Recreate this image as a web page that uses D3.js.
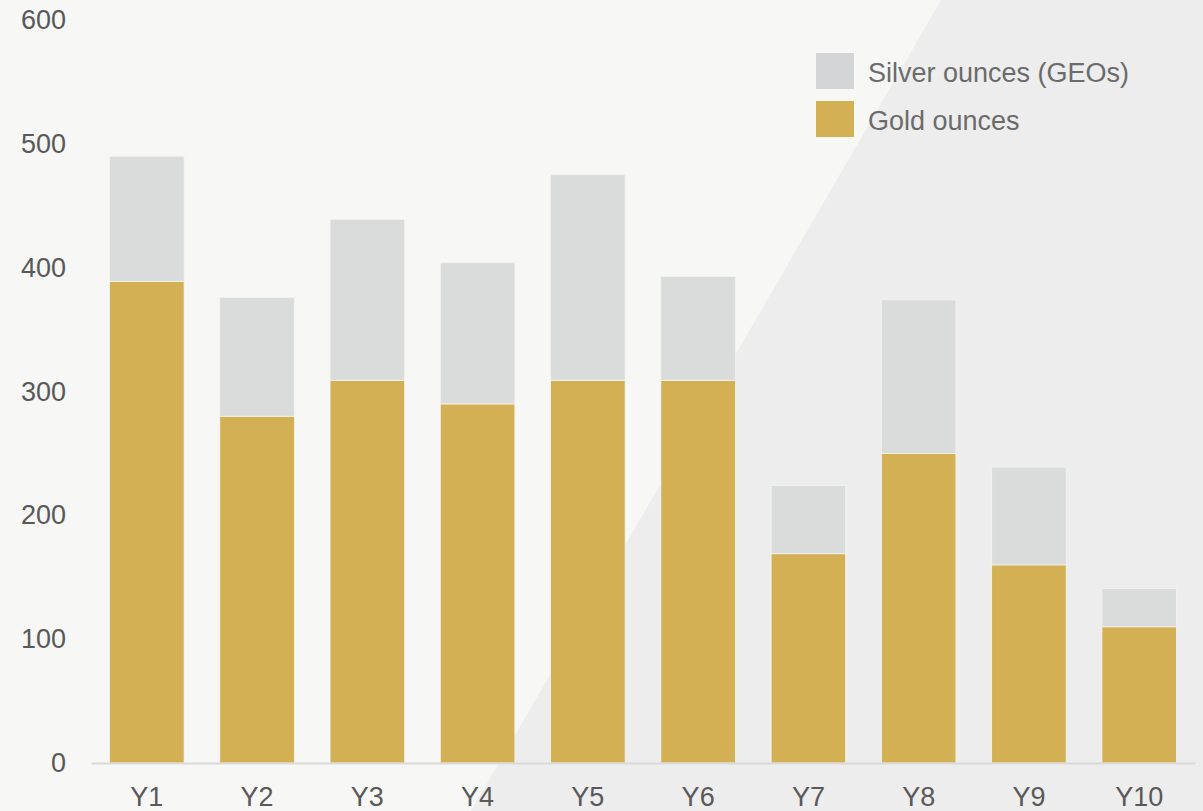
<!DOCTYPE html>
<html>
<head>
<meta charset="utf-8">
<script src="https://cdn.jsdelivr.net/npm/d3@7"></script>
<style>
  html, body { margin: 0; padding: 0; background: #f7f7f5; }
  svg { display: block; font-family: "Liberation Sans", Arial, sans-serif; }
</style>
</head>
<body>
<svg id="chart"></svg>
<script>
// chart values
const years = ['Y1', 'Y2', 'Y3', 'Y4', 'Y5', 'Y6', 'Y7', 'Y8', 'Y9', 'Y10'];
const goldOunces = [389, 280, 309, 290, 309, 309, 169, 250, 160, 110];
const silverOunces = [101, 96, 130, 114, 166, 84, 55, 124, 79, 31];
const yTicks = [0, 100, 200, 300, 400, 500, 600];
const seriesNames = ['Silver ounces (GEOs)', 'Gold ounces'];

const width = 1203, height = 811;
const svg = d3.select('#chart')
  .attr('width', width)
  .attr('height', height);

// background with the lighter diagonal panel
svg.append('rect')
  .attr('width', width).attr('height', height)
  .attr('fill', '#f7f7f5');
svg.append('path')
  .attr('d', `M941,0 L${width},0 L${width},${height} L471,${height} Z`)
  .attr('fill', '#ededed');

const x = d3.scaleBand()
  .domain(years)
  .range([91, 1195])
  .paddingInner(0.324)
  .paddingOuter(0.168);

const y = d3.scaleLinear()
  .domain([0, 600])
  .range([763, 20]);

const rows = years.map((yr, i) => ({ year: yr, gold: goldOunces[i], silver: silverOunces[i] }));
const stack = d3.stack().keys(['gold', 'silver'])(rows);
const colors = { gold: '#d3b053', silver: '#d9dcdb' };

// bars
svg.append('g')
  .selectAll('g')
  .data(stack)
  .join('g')
  .attr('fill', d => colors[d.key])
  .selectAll('rect')
  .data(d => d)
  .join('rect')
  .attr('x', d => x(d.data.year))
  .attr('y', d => y(d[1]))
  .attr('width', x.bandwidth())
  .attr('height', d => y(d[0]) - y(d[1]))
  .attr('stroke', '#f3f3ef')
  .attr('stroke-width', 0.8);

// y axis labels
const yAxis = svg.append('g')
  .attr('transform', 'translate(66,0)')
  .call(d3.axisLeft(y).tickValues(yTicks).tickSize(0).tickPadding(0));
yAxis.select('.domain').remove();
yAxis.selectAll('text')
  .attr('font-size', 27)
  .attr('fill', '#595959')
  .attr('font-family', '"Liberation Sans", Arial, sans-serif');

// x axis
const xAxis = svg.append('g')
  .attr('transform', 'translate(0,763)')
  .call(d3.axisBottom(x).tickSize(0).tickPadding(24));
xAxis.select('.domain')
  .attr('stroke', '#d9d9d9')
  .attr('stroke-width', 2);
xAxis.selectAll('text')
  .attr('font-size', 27)
  .attr('fill', '#595959')
  .attr('font-family', '"Liberation Sans", Arial, sans-serif');

// legend
const legendColors = ['#d4d5d7', '#d3b053'];
const legend = svg.append('g')
  .selectAll('g')
  .data(seriesNames)
  .join('g')
  .attr('transform', (d, i) => `translate(816,${53 + i * 48})`);
legend.append('rect')
  .attr('width', 38)
  .attr('height', 36)
  .attr('fill', (d, i) => legendColors[i]);
legend.append('text')
  .attr('x', 52)
  .attr('y', 20)
  .attr('dy', '0.35em')
  .attr('font-size', 27)
  .attr('fill', '#6b6b6b')
  .text(d => d);
</script>
</body>
</html>
